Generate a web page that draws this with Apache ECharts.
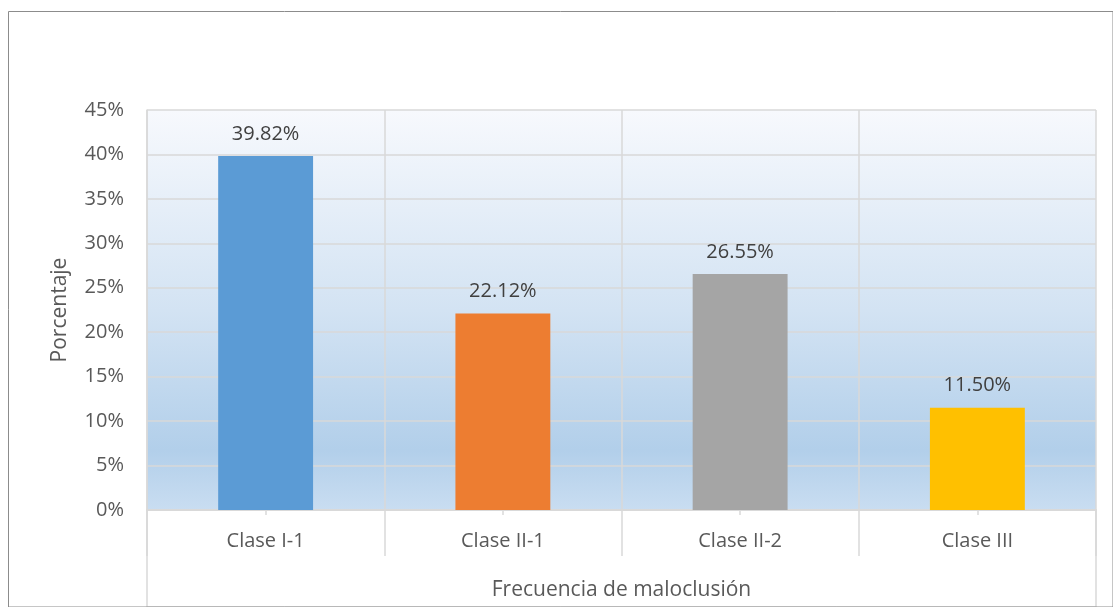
<!DOCTYPE html>
<html><head><meta charset="utf-8">
<script src="https://cdn.jsdelivr.net/npm/echarts@6/dist/echarts.min.js"></script>
<style>html,body{margin:0;padding:0;background:#fff}#c{width:1113px;height:607px}</style>
</head><body><div id="c"></div>
<script>
const categories = ['Clase I-1', 'Clase II-1', 'Clase II-2', 'Clase III'];
const values = [39.82, 22.12, 26.55, 11.50];
const barColors = ['#5b9bd5', '#ed7d31', '#a5a5a5', '#ffc000'];
const yTicks = [0, 5, 10, 15, 20, 25, 30, 35, 40, 45];

const FONT = '"Open Sans", "Noto Sans", sans-serif';
const TXT = '#595959';
const GRIDC = '#d9d9d9';

const chart = echarts.init(document.getElementById('c'), null, {renderer: 'canvas'});
chart.setOption({
  animation: false,
  textStyle: {fontFamily: FONT},
  grid: [
    {left: 147, right: 17, top: 110, bottom: 97, show: true, borderWidth: 0,
     backgroundColor: {type: 'linear', x: 0, y: 0, x2: 0, y2: 1, colorStops: [
       {offset: 0, color: '#f7f9fd'}, {offset: 0.5, color: '#d3e3f3'},
       {offset: 0.85, color: '#b2cfea'}, {offset: 1, color: '#c9ddf1'}]}},
    {left: 147, right: 17, top: 510, bottom: -5, show: true, borderColor: GRIDC, borderWidth: 1.5, backgroundColor: 'transparent'},
    {left: 8.5, right: -10, top: 11.5, bottom: -10, show: true, borderColor: '#8c8c8c', borderWidth: 1, backgroundColor: 'transparent'}
  ],
  xAxis: [
    {type: 'category', gridIndex: 0, data: categories,
     axisLine: {show: true, lineStyle: {color: GRIDC, width: 1.5}},
     axisTick: {show: true, alignWithLabel: false, length: 46, lineStyle: {color: GRIDC, width: 1.5}},
     splitLine: {show: true, lineStyle: {color: GRIDC, width: 1.5}},
     axisLabel: {color: TXT, fontSize: 20, margin: 21, fontFamily: FONT},
     name: 'Frecuencia de maloclusión', nameLocation: 'middle', nameGap: 70,
     nameTextStyle: {color: TXT, fontSize: 21, fontFamily: FONT}},
    {type: 'category', gridIndex: 0, data: categories, position: 'bottom',
     axisLine: {show: false}, axisLabel: {show: false},
     axisTick: {show: true, alignWithLabel: true, length: 5, lineStyle: {color: GRIDC, width: 1.5}},
     splitLine: {show: false}},
    {type: 'value', gridIndex: 1, show: false},
    {type: 'value', gridIndex: 2, show: false}
  ],
  yAxis: [
    {type: 'value', gridIndex: 0, min: yTicks[0], max: yTicks[yTicks.length - 1], interval: 5,
     axisLine: {show: true, lineStyle: {color: GRIDC, width: 1.5}},
     axisTick: {show: false},
     splitLine: {show: true, lineStyle: {color: GRIDC, width: 1.5}},
     axisLabel: {color: TXT, fontSize: 20, margin: 23, formatter: v => v + '%', fontFamily: FONT},
     name: 'Porcentaje', nameLocation: 'middle', nameGap: 76,
     nameTextStyle: {color: TXT, fontSize: 21, fontFamily: FONT}},
    {type: 'value', gridIndex: 1, show: false},
    {type: 'value', gridIndex: 2, show: false}
  ],
  series: [{
    type: 'bar', xAxisIndex: 0, yAxisIndex: 0, barWidth: '40%',
    data: values.map((v, i) => ({value: v, itemStyle: {color: barColors[i]}})),
    label: {show: true, position: 'top', distance: 12, color: '#404040', fontSize: 20, fontFamily: FONT,
            formatter: p => p.value.toFixed(2) + '%'}
  }]
});
</script></body></html>
